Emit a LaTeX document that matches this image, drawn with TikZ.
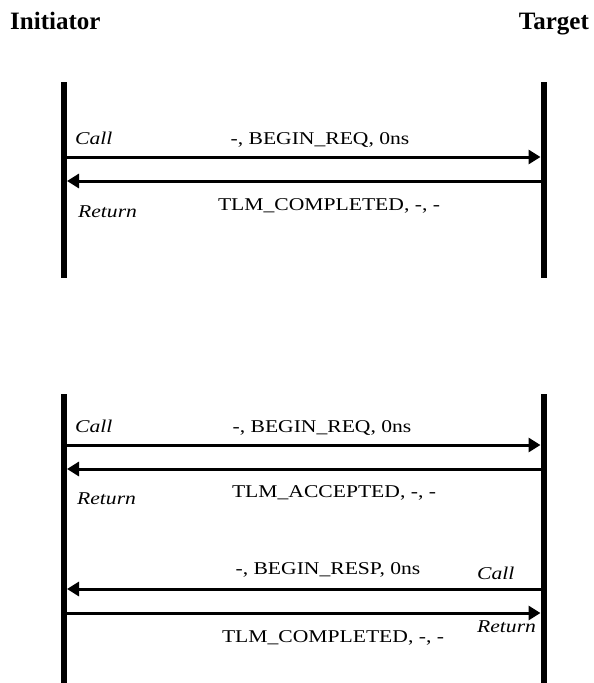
\documentclass[tikz,border=0pt]{standalone}
\usepackage{fontspec}
\setmainfont{Liberation Serif}
\newfontfamily\bodyfont[FakeStretch=1.2]{Liberation Serif}
\usetikzlibrary{arrows.meta}
\begin{document}
\begin{tikzpicture}[x=1pt,y=-1pt,
  lifeline/.style={line width=6pt},
  msg/.style={line width=3pt,-{Triangle[length=12pt,width=14pt]},shorten >=3pt},
  head/.style={font=\fontsize{25}{30}\selectfont\bfseries, inner sep=0pt},
  lbl/.style={font=\bodyfont\fontsize{18}{22}\selectfont, inner sep=0pt},
  ilbl/.style={font=\bodyfont\fontsize{18}{22}\selectfont\itshape, inner sep=0pt}]
\useasboundingbox (0,0) rectangle (594,683);

\node[head,anchor=base west] (init) at (10,29) {Initiator};
\node[head,anchor=base east] (targ) at (589,29) {Target};

% ---------- top exchange ----------
\coordinate (L1t) at (64,82);    \coordinate (L1b) at (64,278);
\coordinate (R1t) at (543.5,82); \coordinate (R1b) at (543.5,278);
\draw[lifeline] (L1t) -- (L1b);
\draw[lifeline] (R1t) -- (R1b);

\coordinate (a1l) at (64,157);  \coordinate (a1r) at (543.5,157);
\coordinate (a2l) at (64,181);  \coordinate (a2r) at (543.5,181);
\draw[msg] (a1l) -- (a1r);
\draw[msg] (a2r) -- (a2l);

\node[ilbl,anchor=base west] (call1) at (75,144) {Call};
\node[ilbl,anchor=base west] (ret1) at (78,217.5) {Return};
\node[lbl,anchor=base] (m1) at (320,144) {-, BEGIN\_REQ, 0ns};
\node[lbl,anchor=base] (m2) at (329,210) {TLM\_COMPLETED, -, -};

% ---------- bottom exchange ----------
\coordinate (L2t) at (64,394);    \coordinate (L2b) at (64,683);
\coordinate (R2t) at (543.5,394); \coordinate (R2b) at (543.5,683);
\draw[lifeline] (L2t) -- (L2b);
\draw[lifeline] (R2t) -- (R2b);

\coordinate (b1l) at (64,445);  \coordinate (b1r) at (543.5,445);
\coordinate (b2l) at (64,469);  \coordinate (b2r) at (543.5,469);
\coordinate (b3l) at (64,589);  \coordinate (b3r) at (543.5,589);
\coordinate (b4l) at (64,613);  \coordinate (b4r) at (543.5,613);
\draw[msg] (b1l) -- (b1r);
\draw[msg] (b2r) -- (b2l);
\draw[msg] (b3r) -- (b3l);
\draw[msg] (b4l) -- (b4r);

\node[ilbl,anchor=base west] (call2) at (75,432) {Call};
\node[ilbl,anchor=base west] (ret2) at (77,504) {Return};
\node[lbl,anchor=base] (m3) at (322,432) {-, BEGIN\_REQ, 0ns};
\node[lbl,anchor=base] (m4) at (334,497) {TLM\_ACCEPTED, -, -};
\node[lbl,anchor=base] (m5) at (328,574) {-, BEGIN\_RESP, 0ns};
\node[ilbl,anchor=base west] (call3) at (477,579) {Call};
\node[ilbl,anchor=base west] (ret3) at (477,632) {Return};
\node[lbl,anchor=base] (m6) at (333,642) {TLM\_COMPLETED, -, -};
\end{tikzpicture}
\end{document}
